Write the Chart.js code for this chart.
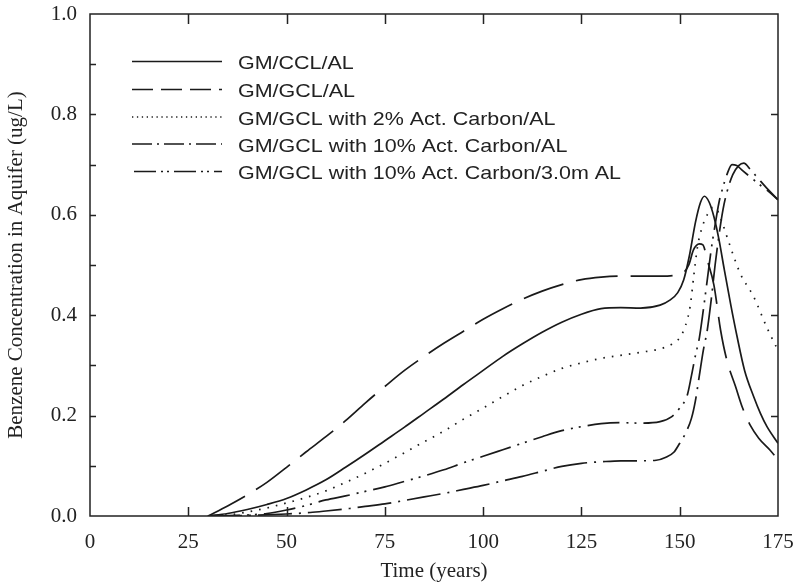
<!DOCTYPE html>
<html>
<head>
<meta charset="utf-8">
<script src="https://cdn.jsdelivr.net/npm/chart.js@4.4.1/dist/chart.umd.min.js"></script>
<style>
  html, body { margin: 0; padding: 0; background: #fff; }
</style>
</head>
<body>
<canvas id="chart" width="795" height="585"></canvas>
<script>
// series labels, legend order
const seriesLabels = [
    'GM/CCL/AL',
    'GM/GCL/AL',
    'GM/GCL with 2% Act. Carbon/AL',
    'GM/GCL with 10% Act. Carbon/AL',
    'GM/GCL with 10% Act. Carbon/3.0m AL',
];

// GM/CCL/AL (solid)
const ccl_t = [30, 35, 40, 45, 50, 55, 60, 65, 70, 75, 80, 85, 90, 95, 100, 105, 110, 115, 120, 125, 130, 135, 140, 145, 147.5, 149.5, 151, 152.5, 154, 155.3, 156.3, 157.5, 158.7, 160, 161.2, 163, 164.6, 166.5, 168.8, 170.5, 172.2, 175];
const ccl_v = [0, 0.005, 0.013, 0.023, 0.035, 0.052, 0.072, 0.097, 0.123, 0.15, 0.177, 0.205, 0.233, 0.262, 0.29, 0.318, 0.343, 0.366, 0.386, 0.402, 0.413, 0.415, 0.414, 0.42, 0.43, 0.445, 0.47, 0.52, 0.585, 0.625, 0.637, 0.625, 0.596, 0.55, 0.497, 0.42, 0.357, 0.29, 0.238, 0.205, 0.178, 0.145];

// GM/GCL/AL (long dash)
const gcl_t = [30, 35, 40, 45, 50, 55, 60, 65, 70, 75, 80, 85, 90, 95, 100, 105, 110, 115, 120, 125, 130, 135, 140, 145, 149, 151, 152.3, 153.5, 155, 155.9, 157, 158.7, 160.4, 162, 164.2, 166, 168, 170.1, 173, 175];
const gcl_v = [0, 0.02, 0.042, 0.067, 0.097, 0.128, 0.158, 0.19, 0.225, 0.258, 0.29, 0.318, 0.344, 0.368, 0.392, 0.413, 0.432, 0.448, 0.461, 0.471, 0.476, 0.478, 0.478, 0.478, 0.48, 0.485, 0.5, 0.53, 0.542, 0.54, 0.51, 0.46, 0.37, 0.31, 0.258, 0.215, 0.18, 0.155, 0.131, 0.112];

// 2% act. carbon (dotted)
const ac2_t = [30, 35, 40, 45, 50, 55, 60, 65, 70, 75, 80, 85, 90, 95, 100, 105, 110, 115, 120, 125, 130, 135, 140, 145, 148, 150, 151.5, 152.7, 153.6, 154.5, 155.5, 157, 158.5, 159.5, 161, 162.5, 165.4, 168.8, 172.2, 175];
const ac2_v = [0, 0.002, 0.008, 0.016, 0.026, 0.037, 0.05, 0.067, 0.085, 0.105, 0.126, 0.148, 0.169, 0.193, 0.215, 0.238, 0.26, 0.278, 0.294, 0.305, 0.314, 0.32, 0.326, 0.333, 0.342, 0.355, 0.38, 0.42, 0.48, 0.535, 0.57, 0.6, 0.615, 0.61, 0.58, 0.545, 0.483, 0.437, 0.375, 0.33];

// 10% act. carbon (dash-dot)
const ac10_t = [30, 40, 50, 56, 60, 66, 70, 75, 80, 85, 90, 95, 100, 105, 110, 115, 120, 125, 130, 135, 140, 144, 146.5, 148.5, 150, 151.5, 153, 154, 155, 156, 157, 158, 159, 160, 161, 162, 163.5, 165, 166.3, 168, 170, 172.5, 175];
const ac10_v = [0, 0.001, 0.004, 0.007, 0.01, 0.015, 0.019, 0.024, 0.031, 0.038, 0.045, 0.053, 0.061, 0.07, 0.079, 0.089, 0.099, 0.105, 0.108, 0.11, 0.11, 0.111, 0.117, 0.127, 0.145, 0.165, 0.195, 0.23, 0.28, 0.33, 0.37, 0.43, 0.5, 0.56, 0.61, 0.645, 0.68, 0.698, 0.703, 0.69, 0.672, 0.65, 0.63];

// 10% act. carbon / 3.0m AL (dash-dot-dot)
const ac10b_t = [30, 40, 45, 50, 55, 60, 65, 70, 75, 80, 85, 90, 95, 100, 105, 110, 115, 120, 125, 130, 135, 140, 145, 148, 150, 151.9, 153, 154, 155, 156, 157, 158, 159, 160, 161, 162, 163.3, 164.5, 166, 168, 170, 172.5, 175];
const ac10b_v = [0, 0.002, 0.005, 0.012, 0.021, 0.032, 0.04, 0.049, 0.058, 0.069, 0.08, 0.092, 0.106, 0.119, 0.132, 0.145, 0.158, 0.17, 0.178, 0.184, 0.186, 0.185, 0.188, 0.198, 0.215, 0.24, 0.28, 0.32, 0.355, 0.41, 0.47, 0.53, 0.58, 0.625, 0.655, 0.68, 0.7, 0.698, 0.688, 0.675, 0.662, 0.647, 0.63];

const xMax = 175;
const yMax = 1.0;

const INK = '#1a1a1a';
const plotDashes = [[], [42, 13], [1.6, 7], [34, 7, 2, 7], [32, 7, 2, 6, 2, 7]];
const legendDashes = [[], [21, 8], [1.3, 3.6], [20, 5, 2, 5], [22, 5, 2, 4, 2, 5]];

function toPoints(ts, vs) {
    return ts.map((t, i) => ({ x: t, y: vs[i] }));
}

const seriesData = [
    toPoints(ccl_t, ccl_v),
    toPoints(gcl_t, gcl_v),
    toPoints(ac2_t, ac2_v),
    toPoints(ac10_t, ac10_v),
    toPoints(ac10b_t, ac10b_v),
];

// box with inward ticks on all four sides
const framePlugin = {
    id: 'frame',
    afterDatasetsDraw(chart) {
        const { ctx, chartArea: a, scales: { x, y } } = chart;
        ctx.save();
        ctx.strokeStyle = '#222';
        ctx.lineWidth = 1.5;
        ctx.strokeRect(a.left, a.top, a.right - a.left, a.bottom - a.top);
        ctx.beginPath();
        x.ticks.forEach((t) => {
            if (t.value <= x.min || t.value >= x.max) return;
            const px = Math.round(x.getPixelForValue(t.value)) + 0.5;
            ctx.moveTo(px, a.bottom); ctx.lineTo(px, a.bottom - 9);
            ctx.moveTo(px, a.top); ctx.lineTo(px, a.top + 10);
        });
        const vals = y.ticks.map((t) => t.value);
        vals.forEach((v, i) => {
            const py = Math.round(y.getPixelForValue(v)) + 0.5;
            if (v > y.min && v < y.max) {
                ctx.moveTo(a.left, py); ctx.lineTo(a.left + 6, py);
                ctx.moveTo(a.right, py); ctx.lineTo(a.right - 7, py);
            }
            if (i < vals.length - 1) {
                const pm = Math.round(y.getPixelForValue((v + vals[i + 1]) / 2)) + 0.5;
                ctx.moveTo(a.left, pm); ctx.lineTo(a.left + 6, pm);
            }
        });
        ctx.stroke();
        ctx.restore();
    },
};

// legend drawn inside the plot, upper left
const legendPlugin = {
    id: 'innerLegend',
    afterDatasetsDraw(chart) {
        const { ctx } = chart;
        const textY = [64, 92, 119.5, 146.5, 174];
        ctx.save();
        chart.data.datasets.forEach((ds, i) => {
            const ly = textY[i] - 2.5;
            ctx.beginPath();
            ctx.setLineDash(legendDashes[i]);
            ctx.strokeStyle = INK;
            ctx.lineWidth = 1.5;
            ctx.moveTo(i === 4 ? 134 : 132, ly);
            ctx.lineTo(222, ly);
            ctx.stroke();
            ctx.setLineDash([]);
            ctx.save();
            ctx.translate(238, textY[i]);
            ctx.scale(1.13, 1);
            ctx.fillStyle = '#222';
            ctx.font = '19px "Liberation Sans", Arial, sans-serif';
            ctx.textBaseline = 'middle';
            ctx.fillText(ds.label, 0, 0);
            ctx.restore();
        });
        ctx.restore();
    },
};

const serif = '"Liberation Serif", "Times New Roman", serif';

new Chart(document.getElementById('chart'), {
    type: 'line',
    data: {
        datasets: seriesData.map((pts, i) => ({
            label: seriesLabels[i],
            data: pts,
            borderColor: INK,
            borderWidth: 1.7,
            borderDash: plotDashes[i],
            pointRadius: 0,
            fill: false,
            cubicInterpolationMode: 'monotone',
        })),
    },
    options: {
        responsive: false,
        animation: false,
        layout: { padding: { top: 14, right: 17, left: 0, bottom: 0 } },
        scales: {
            x: {
                type: 'linear',
                min: 0,
                max: xMax,
                grid: { display: false, drawTicks: false },
                border: { display: false },
                ticks: { stepSize: 25, padding: 14, color: '#222', font: { family: serif, size: 21 } },
                title: { display: true, text: 'Time (years)', color: '#222', padding: { bottom: 1 }, font: { family: serif, size: 21 } },
                afterFit(scale) {
                    scale.height = 69;
                    scale.paddingLeft = 0;
                    scale.paddingRight = 0;
                },
            },
            y: {
                min: 0,
                max: yMax,
                grid: { display: false, drawTicks: false },
                border: { display: false },
                ticks: {
                    stepSize: 0.2,
                    padding: 13,
                    color: '#222',
                    font: { family: serif, size: 21 },
                    callback: (v) => v.toFixed(1),
                },
                title: { display: true, text: 'Benzene Concentration in Aquifer (ug/L)', color: '#222', padding: { top: 4 }, font: { family: serif, size: 21 } },
                afterFit(scale) {
                    scale.width = 90;
                    scale.paddingTop = 0;
                    scale.paddingBottom = 0;
                },
            },
        },
        plugins: {
            legend: { display: false },
            tooltip: { enabled: false },
        },
    },
    plugins: [framePlugin, legendPlugin],
});
</script>
</body>
</html>
